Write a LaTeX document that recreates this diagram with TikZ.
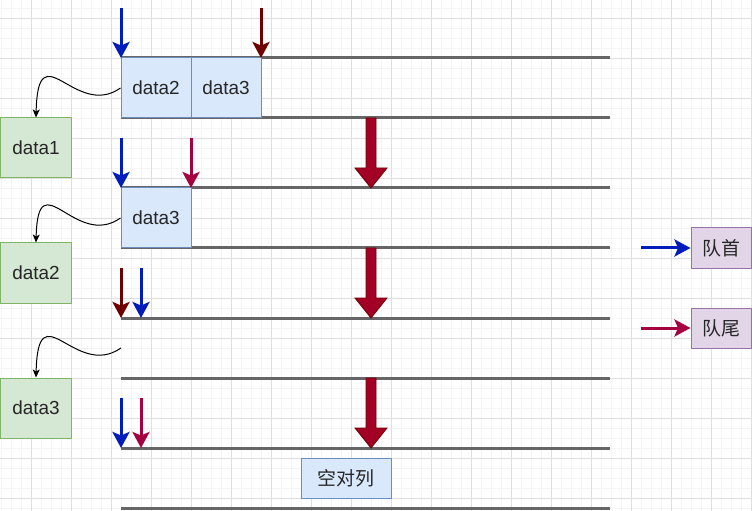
\documentclass[tikz,border=0pt]{standalone}
\usepackage{fontspec}
\setmainfont{Liberation Sans}
\newfontfamily\cjk{Noto Sans CJK SC}
\usetikzlibrary{arrows.meta}
\definecolor{qline}{HTML}{666666}
\definecolor{pblue}{HTML}{001DBC}
\definecolor{pdark}{HTML}{6F0000}
\definecolor{pcrim}{HTML}{A50040}
\definecolor{bigred}{HTML}{A20025}
\definecolor{bluefill}{HTML}{DAE8FC}
\definecolor{bluedraw}{HTML}{6C8EBF}
\definecolor{greenfill}{HTML}{D5E8D4}
\definecolor{greendraw}{HTML}{82B366}
\definecolor{purfill}{HTML}{E1D5E7}
\definecolor{purdraw}{HTML}{9673A6}
\definecolor{gridminor}{HTML}{F4F4F4}
\definecolor{gridmajor}{HTML}{DEDEDE}
\tikzset{
  cell/.style={draw=bluedraw, fill=bluefill, line width=1bp, minimum width=70bp, minimum height=60bp, inner sep=0pt, font=\fontsize{19}{22}\selectfont, text=black!85},
  outbox/.style={draw=greendraw, fill=greenfill, line width=1bp, minimum width=70bp, minimum height=60bp, inner sep=0pt, font=\fontsize{19}{22}\selectfont, text=black!85},
  legendbox/.style={draw=purdraw, fill=purfill, line width=1bp, minimum width=60bp, minimum height=40bp, inner sep=0pt, font=\cjk\fontsize{19}{22}\selectfont, text=black!85},
  emptybox/.style={draw=bluedraw, fill=bluefill, line width=1bp, minimum width=90bp, minimum height=40bp, inner sep=0pt, font=\cjk\fontsize{19}{22}\selectfont, text=black!85},
  qwall/.style={draw=qline, line width=3bp},
  ptr/.style={line width=3bp, -{Stealth[length=16bp,width=17bp,inset=3.5bp]}},
  curvy/.style={draw=black, line width=1bp, -{Stealth[length=8bp,width=7bp,inset=2bp]}},
  bigarrow/.style={fill=bigred, draw=pdark, line width=0.8bp},
}
\begin{document}
\begin{tikzpicture}[x=1bp,y=-1bp]
\useasboundingbox (0,0) rectangle (752,511);
\fill[white] (0,0) rectangle (752,511);
% background grid
\foreach \gx in {1.7,11.7,...,751.7} \draw[gridminor, line width=0.6bp] (\gx,0) -- (\gx,511);
\foreach \gy in {8.3,18.3,...,511} \draw[gridminor, line width=0.6bp] (0,\gy) -- (752,\gy);
\foreach \gx in {31.7,71.7,...,751.7} \draw[gridmajor, line width=0.8bp] (\gx,0) -- (\gx,511);
\foreach \gy in {18.3,58.3,...,511} \draw[gridmajor, line width=0.8bp] (0,\gy) -- (752,\gy);

% queue walls
\foreach \wy in {58,118,188,248,318,378,448,508}
  \draw[qwall] (121,\wy) -- (610,\wy);

% row 1
\node[cell] (r1a) at (156,88) {data2};
\node[cell] (r1b) at (226,88) {data3};
\node[outbox] (out1) at (36,148) {data1};
\coordinate (h1s) at (121,8); \coordinate (h1e) at (121,58);
\coordinate (t1s) at (261,8); \coordinate (t1e) at (261,58);
\draw[ptr, pblue] (h1s) -- (h1e);
\draw[ptr, pdark] (t1s) -- (t1e);
\draw[curvy] (r1a.west) .. controls (75,120) and (38,30) .. (out1.north);

% row 2
\node[cell] (r2a) at (156,218) {data3};
\node[outbox] (out2) at (36,273) {data2};
\coordinate (h2s) at (121,138); \coordinate (h2e) at (121,188);
\coordinate (t2s) at (191,138); \coordinate (t2e) at (191,188);
\draw[ptr, pblue] (h2s) -- (h2e);
\draw[ptr, pcrim] (t2s) -- (t2e);
\draw[curvy] (r2a.west) .. controls (75,250) and (38,160) .. (out2.north);

% row 3
\node[outbox] (out3) at (36,408) {data3};
\coordinate (h3s) at (141,268); \coordinate (h3e) at (141,318);
\coordinate (t3s) at (121,268); \coordinate (t3e) at (121,318);
\coordinate (c3) at (121,348);
\draw[ptr, pdark] (t3s) -- (t3e);
\draw[ptr, pblue] (h3s) -- (h3e);
\draw[curvy] (c3) .. controls (75,380) and (38,290) .. (out3.north);

% row 4
\coordinate (h4s) at (121,398); \coordinate (h4e) at (121,448);
\coordinate (t4s) at (141,398); \coordinate (t4e) at (141,448);
\draw[ptr, pblue] (h4s) -- (h4e);
\draw[ptr, pcrim] (t4s) -- (t4e);
\node[emptybox] (empty) at (346,478) {空对列};

% big transition arrows
\foreach \by in {118,248,378}
  \draw[bigarrow] (366,\by) -- (376,\by) -- (376,\by+50) -- (387,\by+50) -- (371,\by+70) -- (355,\by+50) -- (366,\by+50) -- cycle;

% legend
\node[legendbox] (lhead) at (721,248) {队首};
\node[legendbox] (ltail) at (721,328) {队尾};
\coordinate (lh) at (641,248);
\coordinate (lt) at (641,328);
\draw[ptr, pblue] (lh) -- (lhead.west);
\draw[ptr, pcrim] (lt) -- (ltail.west);
\end{tikzpicture}
\end{document}
